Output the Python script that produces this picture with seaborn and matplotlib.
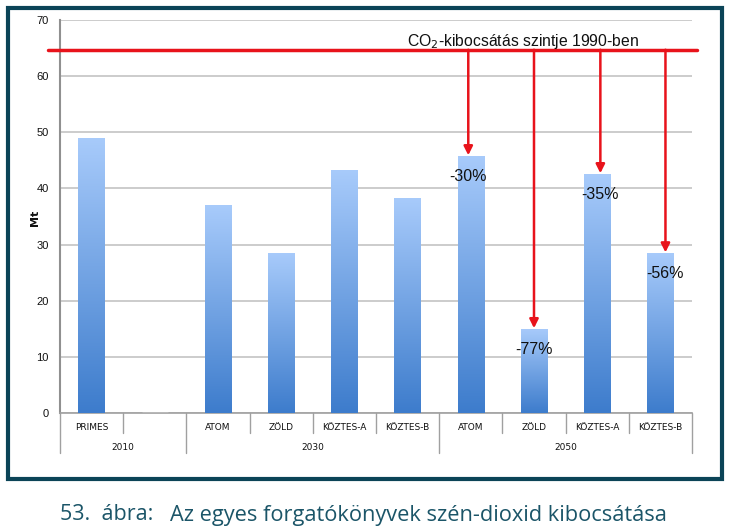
import numpy as np
import pandas as pd
import seaborn as sns
import matplotlib.pyplot as plt
from matplotlib.colors import LinearSegmentedColormap
from matplotlib.patches import Rectangle

# data
scenarios = ["PRIMES", "", "ATOM", "ZÖLD", "KÖZTES-A", "KÖZTES-B",
             "ATOM", "ZÖLD", "KÖZTES-A", "KÖZTES-B"]
years = ["2010", "2030", "2050"]
year_spans = [(0, 2), (2, 6), (6, 10)]
emissions = [49.0, 0.0, 37.0, 28.5, 43.3, 38.3, 45.8, 15.0, 42.6, 28.5]
level_1990 = 64.7
arrow_idx = [6, 7, 8, 9]
arrow_labels = ["-30%", "-77%", "-35%", "-56%"]

df = pd.DataFrame({"pos": range(len(scenarios)), "Mt": emissions})

sns.set_style("white")
plt.rcParams['font.family'] = ['Liberation Sans', 'DejaVu Sans']

fig = plt.figure(figsize=(7.29, 5.31), dpi=100)
ax = fig.add_axes([60 / 729, 1 - 413 / 531, 632 / 729, 393 / 531])

sns.barplot(data=df, x="pos", y="Mt", width=0.42, color="#6fa0e6",
            errorbar=None, ax=ax, zorder=3)

# vertical gradient on every bar
cmap = LinearSegmentedColormap.from_list("bar", ["#3d7ccc", "#a8cbfb"])
grad = np.linspace(0, 1, 256).reshape(-1, 1)
for p in list(ax.patches):
    if p.get_height() <= 0:
        continue
    x0, w, h = p.get_x(), p.get_width(), p.get_height()
    im = ax.imshow(grad, cmap=cmap, origin="lower", aspect="auto",
                   extent=[x0, x0 + w, 0, h], zorder=3)
    im.set_clip_path(p)
    p.set_facecolor("none")
    p.set_edgecolor("none")

ax.set_xlim(-0.5, 9.5)
ax.set_ylim(0, 70)
ax.set_yticks(range(0, 71, 10))
ax.yaxis.grid(True, color="#c4c4c4", linewidth=1.2, zorder=0)
ax.set_axisbelow(True)
ax.tick_params(axis="y", length=5, color="#909090", labelsize=8, pad=3,
               width=1.2, labelcolor="#111111")
ax.set_ylabel("")
fig.text(35 / 729, 1 - 218 / 531, "Mt", rotation=90, ha="center",
         va="center", fontsize=8, fontweight="bold", color="#111111",
         family=["DejaVu Sans"])
for s in ["top", "right"]:
    ax.spines[s].set_visible(False)
ax.spines["left"].set_color("#909090")
ax.spines["left"].set_linewidth(1.5)
ax.spines["bottom"].set_color("#a0a0a0")
ax.spines["bottom"].set_linewidth(1.2)

# two-level category axis
ax.set_xticks([])
ax.set_xlabel("")
tr = ax.get_xaxis_transform()
for i, name in enumerate(scenarios):
    ax.text(i, -14 / 393, name, transform=tr, ha="center", va="center",
            fontsize=6.5, color="#111111", family=["DejaVu Sans"])
group_edges = {s for s, e in year_spans} | {e for s, e in year_spans}
for b in range(len(scenarios) + 1):
    depth = 40 if b in group_edges else 20
    ax.plot([b - 0.5, b - 0.5], [0, -depth / 393], transform=tr,
            color="#a0a0a0", linewidth=1, clip_on=False)
for yr, (s, e) in zip(years, year_spans):
    ax.text((s + e - 1) / 2, -34 / 393, yr, transform=tr, ha="center",
            va="center", fontsize=6.5, color="#111111",
            family=["DejaVu Sans"])

# 1990 level line and arrows (arrows sit slightly off the bar centres)
arrow_dx = [-0.04, 0.0, 0.05, 0.08]
ax.plot([-0.69, 9.58], [level_1990, level_1990], color="#e8131b",
        linewidth=2.5, clip_on=False, zorder=5)
ax.text(6.82, level_1990 - 0.2, "CO$_2$-kibocsátás szintje 1990-ben",
        ha="center", va="bottom", fontsize=11.3, color="#111111", zorder=7)
for i, lab, dx in zip(arrow_idx, arrow_labels, arrow_dx):
    xa = i + dx
    ax.annotate("", xy=(xa, emissions[i] + 0.1), xytext=(xa, level_1990),
                arrowprops=dict(arrowstyle="-|>", color="#e8131b", lw=1.8,
                                mutation_scale=13, shrinkA=0, shrinkB=0),
                zorder=6)
    ax.text(xa, emissions[i] - 3.7, lab, ha="center", va="center",
            fontsize=11.5, color="#111111", zorder=7)

# frame and caption
fig.patches.append(Rectangle((8 / 729, 1 - 479 / 531), 714 / 729, 471 / 531,
                             transform=fig.transFigure, fill=False,
                             edgecolor="#0b4457", linewidth=3))
fig.text(60 / 729, 1 - 515 / 531, "53.  ábra:", ha="left", va="center",
         fontsize=15.5, color="#1b5568", family=["Open Sans", "DejaVu Sans"])
fig.text(170 / 729, 1 - 515 / 531,
         "Az egyes forgatókönyvek szén-dioxid kibocsátása",
         ha="left", va="center", fontsize=15.7, color="#1b5568",
         family=["Open Sans", "DejaVu Sans"])

fig.savefig("out.png", dpi=100)
